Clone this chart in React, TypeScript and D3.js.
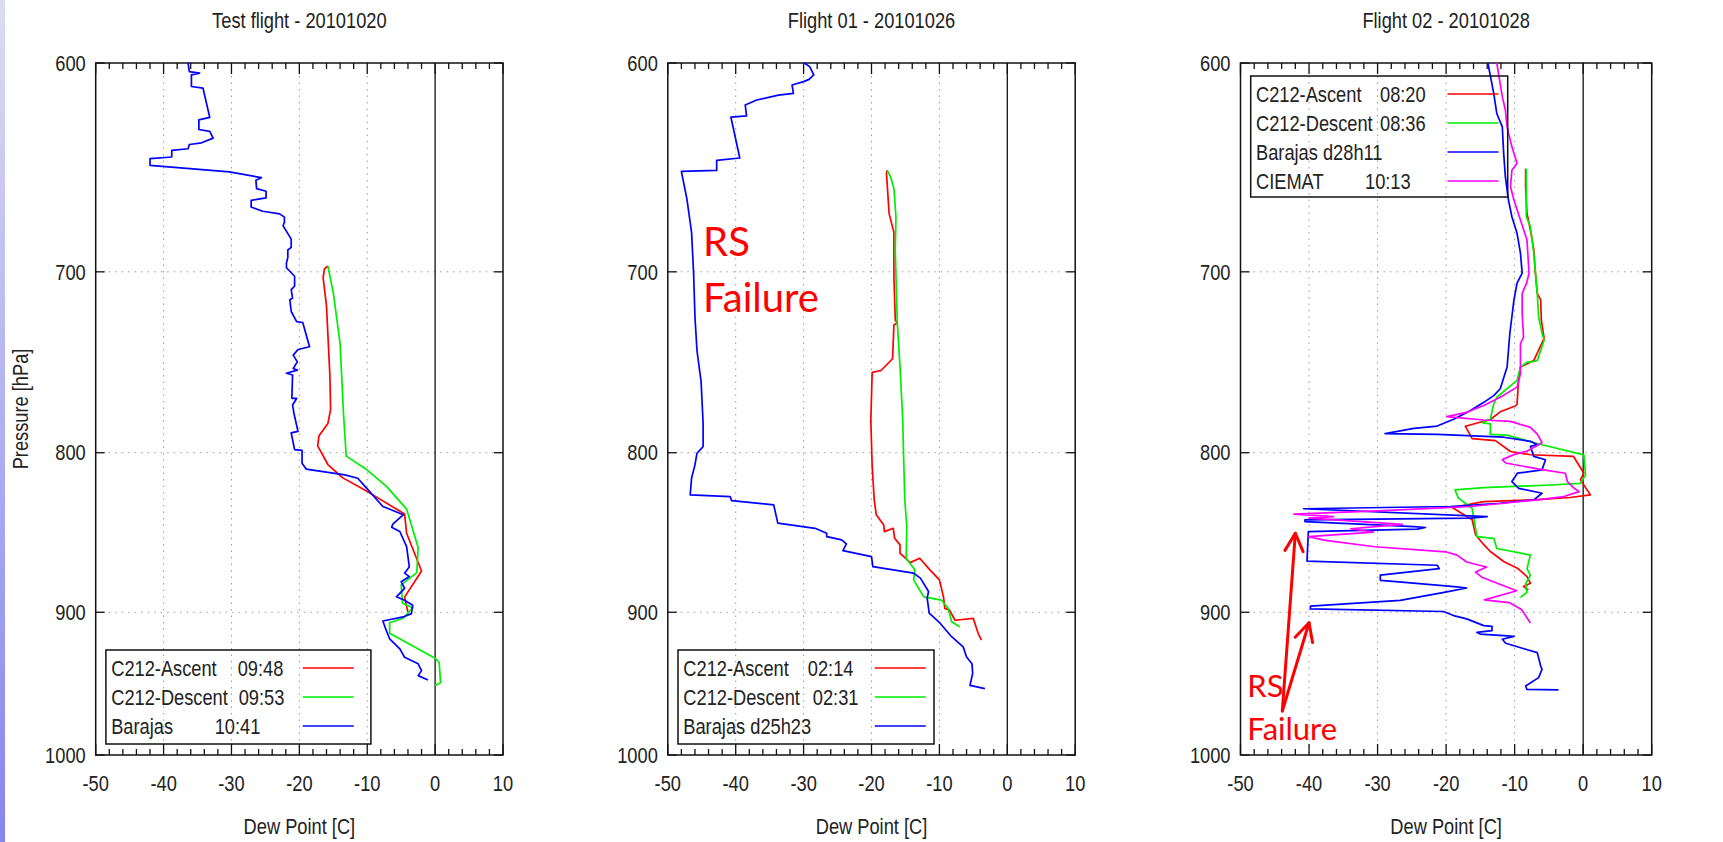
import React from 'react'
import * as d3 from 'd3'

type Pt = [number, number] // [dew point C, pressure hPa]

const xTicks = [-50, -40, -30, -20, -10, 0, 10]
const yTicks = [600, 700, 800, 900, 1000]

// ---- Test flight 20101020 ----
const testAscent: Pt[] = [
  [-15.8, 697], [-16.3, 698.5], [-16.5, 703], [-16.0, 718], [-15.5, 756], [-15.4, 775], [-15.8, 783],
  [-17.1, 790], [-17.3, 796], [-15.8, 807], [-13.6, 815], [-10.1, 823], [-4.5, 837], [-4.2, 849],
  [-2.0, 873], [-4.5, 890], [-4.0, 900],
]
const testDescent: Pt[] = [
  [-15.8, 697], [-15.0, 711], [-14.0, 738], [-13.5, 777], [-13.1, 802], [-10.1, 810], [-7.2, 820],
  [-4.2, 834], [-2.5, 858], [-2.7, 874], [-5.0, 882], [-4.8, 894], [-3.3, 897], [-4.7, 904],
  [-6.7, 907], [-6.7, 914], [0.0, 931], [0.6, 934], [0.8, 948], [0.0, 950],
]
const testBarajas: Pt[] = [
  [-36.4, 600], [-36.2, 603.8], [-34.7, 604.5], [-35.9, 605.3], [-35.9, 610.5], [-34.2, 611.2],
  [-33.2, 624.6], [-34.8, 625.7], [-34.8, 630.2], [-33.2, 631.1], [-32.7, 634.2], [-34.4, 636.4],
  [-36.2, 637.2], [-36.4, 639.2], [-38.8, 640], [-38.8, 643.1], [-42.0, 643.9], [-42.0, 647.1],
  [-30.3, 650.2], [-26.3, 652.6], [-25.6, 653], [-26.4, 654.2], [-26.3, 658.3], [-24.9, 659.6],
  [-24.9, 662.8], [-27.1, 664], [-27.1, 667.3], [-25.4, 669.4], [-22.9, 670.7], [-22.2, 672.3],
  [-22.2, 674.9], [-22.4, 676.6], [-21.8, 679.9], [-21.2, 683.3], [-21.2, 687.5], [-21.7, 688.8],
  [-21.7, 692.7], [-21.9, 695.3], [-21.9, 697.9], [-20.7, 702.3], [-20.7, 707.5], [-21.2, 709.3],
  [-21.0, 713.7], [-21.4, 714.6], [-21.2, 720.8], [-20.4, 726.2], [-19.5, 726.7], [-18.5, 739.8],
  [-20.2, 741.3], [-20.9, 744.4], [-20.3, 748.1], [-20.9, 751.8], [-20.3, 752.7], [-21.9, 754.4],
  [-21.0, 755.4], [-21.1, 768.5], [-20.4, 768.6], [-21.0, 772.3], [-20.8, 777], [-20.2, 787.5],
  [-21.2, 788.4], [-20.7, 798.2], [-19.6, 798.6], [-19.6, 806.2], [-19.0, 809.7], [-13.3, 813.2],
  [-11.4, 815.2], [-10.1, 821.2], [-7.7, 832.4], [-7.2, 833.2], [-4.7, 837.5], [-6.2, 843.1],
  [-6.4, 845.2], [-5.2, 847.9], [-4.2, 857.4], [-3.8, 870.3], [-4.5, 874.4], [-3.8, 876.6],
  [-5.0, 879.9], [-4.5, 884.3], [-5.7, 889.8], [-4.5, 892], [-3.3, 895.3], [-3.5, 900.9],
  [-4.7, 903.1], [-7.7, 905.8], [-7.2, 912.1], [-6.7, 917.8], [-5.2, 924.6], [-4.5, 930.4],
  [-2.5, 934.9], [-2.0, 939.6], [-2.5, 943.1], [-1.05, 946.1],
]

// ---- Flight 01 20101026 ----
const f1Ascent: Pt[] = [
  [-17.7, 649.4], [-17.8, 650.8], [-17.4, 670.7], [-16.7, 679.9], [-16.7, 702.4], [-16.5, 725.4],
  [-16.2, 726.9], [-16.7, 728], [-16.9, 746.4], [-18.6, 752.9], [-19.9, 753.9], [-20.1, 780.9],
  [-19.9, 808], [-19.6, 828.3], [-19.3, 837.5], [-18.2, 843.8], [-18.1, 848], [-16.8, 845.9],
  [-16.6, 852.1], [-15.8, 856.3], [-15.8, 861.6], [-14.3, 867.6], [-12.9, 864.8], [-11.4, 872.3],
  [-10.0, 878.7], [-9.4, 889.8], [-9.2, 897.4], [-8.5, 898.6], [-7.7, 905.3], [-5.0, 904.1],
  [-4.3, 914.1], [-3.8, 918.7],
]
const f1Descent: Pt[] = [
  [-17.7, 649.4], [-17.2, 652.6], [-16.7, 658.2], [-16.4, 672.1], [-16.5, 688.9], [-16.2, 727.1],
  [-15.8, 750.7], [-15.4, 780.9], [-15.3, 798.2], [-15.1, 828.3], [-14.8, 844.8], [-14.9, 864.8],
  [-13.6, 872.3], [-13.8, 878.7], [-12.3, 889.8], [-9.7, 892], [-8.7, 897.4], [-8.2, 906.3],
  [-7.0, 909.7],
]
const f1Barajas: Pt[] = [
  [-29.9, 600], [-29.1, 601.6], [-28.5, 605.3], [-29.2, 607.3], [-30.0, 608.3], [-31.7, 609.8],
  [-31.5, 613.6], [-33.7, 614.4], [-36.9, 616.6], [-38.6, 618.9], [-38.4, 623.9], [-40.7, 624.5],
  [-39.4, 643.6], [-42.8, 644.7], [-42.8, 649.5], [-48.0, 650], [-47.2, 663.1], [-46.5, 679.9],
  [-46.2, 700.7], [-46.0, 723.7], [-45.7, 742], [-45.1, 758.9], [-44.8, 782.8], [-44.8, 796.4],
  [-45.7, 800.3], [-46.0, 807.2], [-46.5, 815.2], [-46.7, 825.3], [-40.8, 826.4], [-40.6, 828.8],
  [-34.4, 831.4], [-33.8, 842.7], [-28.3, 845.9], [-26.6, 849], [-26.6, 851.1], [-24.4, 853.2],
  [-23.7, 855.7], [-24.2, 860], [-20.0, 863.8], [-19.8, 870.2], [-13.8, 874.4], [-12.8, 877.6],
  [-11.6, 886.3], [-11.8, 890.7], [-11.5, 900.6], [-9.9, 907.3], [-8.2, 916.4], [-6.5, 923.3],
  [-6.0, 930.2], [-5.2, 934.8], [-5.1, 941.6], [-5.5, 949.9], [-3.3, 952.2],
]

// ---- Flight 02 20101028 ----
const f2Ascent: Pt[] = [
  [-8.4, 648.7], [-8.4, 657.4], [-8.2, 670.4], [-7.7, 678.7], [-7.2, 688.8], [-7.0, 699.2],
  [-6.7, 711.2], [-6.2, 714.7], [-6.1, 725.4], [-5.7, 735.3], [-6.5, 741.7], [-7.2, 747.3],
  [-9.15, 751], [-9.4, 756.6], [-9.65, 771.9], [-9.9, 772.9], [-12.1, 776.2], [-13.55, 780.6],
  [-17.2, 784.5], [-16.2, 791.7], [-12.8, 792.9], [-10.6, 799.3], [-7.7, 801.2], [-1.4, 802.2],
  [0.1, 812.2], [-0.4, 816.2], [1.05, 825.3], [-1.9, 826.9], [-7.2, 828.3], [-14.5, 829.4],
  [-19.1, 833], [-17.4, 837.5], [-16.2, 840.6], [-15.7, 849.9], [-14.5, 856.2], [-13.55, 860.5],
  [-11.6, 866.9], [-9.6, 871.2], [-8.2, 876.6], [-7.7, 880.9], [-8.7, 883.1], [-8.0, 885.3],
]
const f2Descent: Pt[] = [
  [-8.3, 648.7], [-8.3, 672.1], [-7.7, 677.1], [-7.2, 690.5], [-6.7, 711.2], [-6.5, 723.6],
  [-6.0, 732.5], [-5.7, 736.2], [-6.7, 747.3], [-7.2, 747.8], [-8.2, 748.4], [-9.15, 751],
  [-9.65, 758.4], [-12.6, 767.9], [-13.05, 771.7], [-13.55, 780.5], [-14.75, 782.5], [-13.55, 783.1],
  [-13.55, 789.3], [-11.1, 789.7], [-6.0, 795.3], [0.1, 801.3], [0.35, 813.2], [-0.4, 818.3],
  [-4.8, 819.3], [-14.5, 820.9], [-18.7, 822.3], [-18.2, 827.3], [-16.2, 833.5], [-16.0, 838.6],
  [-15.5, 851.1], [-13.05, 852.2], [-12.6, 858.6], [-7.7, 862.8], [-8.2, 871.5], [-7.7, 875.8],
  [-8.4, 881.4], [-8.2, 886.9], [-9.15, 890.2],
]
const f2Barajas: Pt[] = [
  [-13.9, 600], [-13.05, 613.6], [-12.6, 622.8], [-11.8, 629], [-11.6, 641.4], [-11.35, 652.6],
  [-10.9, 663.9], [-10.4, 672.1], [-9.65, 680.4], [-9.15, 690.4], [-8.9, 700.7], [-9.65, 705.9],
  [-10.1, 714.7], [-10.4, 723.6], [-10.7, 732.5], [-10.9, 741.7], [-11.1, 750.9], [-12.1, 763.1],
  [-13.05, 767], [-14.5, 770.8], [-16.5, 775.6], [-18.9, 780.5], [-21.3, 784.4], [-24.7, 785.8],
  [-28.9, 788.8], [-21.3, 789.3], [-11.6, 790.9], [-7.7, 793.3], [-6.7, 795.3], [-7.7, 796.3],
  [-7.2, 802.2], [-5.5, 804.2], [-6.0, 810.2], [-9.6, 812.2], [-10.4, 817.2], [-9.4, 821.3],
  [-6.0, 824.3], [-7.2, 828.3], [-12.1, 830.4], [-19.4, 832.4], [-40.8, 833.8], [-14.0, 838.6],
  [-16.5, 839.6], [-40.6, 840.6], [-40.6, 841.7], [-24.7, 844.8], [-23.0, 845.4], [-24.2, 846.4],
  [-40.1, 848], [-40.3, 866.6], [-21.3, 869.3], [-21.0, 871.5], [-29.6, 875.7], [-29.6, 879],
  [-26.9, 880], [-18.4, 883.3], [-17.0, 884], [-19.9, 886.6], [-26.7, 892.1], [-39.8, 895.9],
  [-39.8, 897.7], [-20.4, 899.5], [-18.9, 902.2], [-17.0, 904.4], [-14.5, 908.9], [-13.3, 909.4],
  [-13.3, 912.3], [-15.5, 913.5], [-15.0, 914.6], [-11.6, 915.7], [-10.1, 916.2], [-11.8, 918.1],
  [-11.3, 920.8], [-8.4, 924.9], [-6.7, 927.2], [-6.2, 936.4], [-6.0, 938.7], [-6.5, 944.5],
  [-8.4, 950.3], [-8.2, 952.7], [-3.6, 953.1],
]
const f2Ciemat: Pt[] = [
  [-12.6, 600], [-11.8, 615.1], [-11.35, 621.2], [-11.1, 629], [-10.4, 638.3], [-9.65, 646.1],
  [-10.4, 649.4], [-10.6, 657.4], [-10.1, 663.9], [-9.15, 673.7], [-8.2, 683.7], [-7.9, 700.7],
  [-8.25, 705.9], [-8.9, 711.2], [-8.9, 721.8], [-8.7, 734.5], [-9.15, 738.1], [-9.15, 754.7],
  [-9.65, 762.2], [-12.1, 767.9], [-14.5, 772.6], [-17.0, 776.5], [-19.9, 779], [-14.5, 780.9],
  [-10.6, 781.7], [-7.7, 785.2], [-6.7, 789.1], [-6.0, 794.1], [-8.2, 799.1], [-10.1, 801.1],
  [-11.8, 804.1], [-11.3, 806.1], [-6.0, 810.1], [-2.6, 812.2], [-2.3, 817.2], [-1.3, 821.3],
  [-0.6, 823.3], [-2.8, 826.3], [-6.7, 828.3], [-11.6, 830.4], [-16.5, 832.4], [-29.1, 835],
  [-42.2, 837.1], [-36.4, 838.6], [-40.0, 839.6], [-26.4, 843.4], [-33.9, 846.2], [-30.6, 848.3],
  [-40.1, 851.1], [-37.6, 853.5], [-30.4, 857.5], [-20.1, 860.7], [-18.4, 862.8], [-17.0, 867.2],
  [-14.1, 870.4], [-15.7, 873.7], [-14.8, 877], [-9.7, 885.8], [-14.4, 891.8], [-10.8, 893.6],
  [-9.0, 898.1], [-7.7, 907.1],
]

// annotation: "RS Failure" arrows in flight 02, [dew, pressure]
const arrowStart: Pt = [-43.9, 968]
const arrowTips: Pt[] = [[-42.0, 849], [-40.0, 907]]

const RED = '#ff0000'
const GREEN = '#00ee00'
const BLUE = '#0000ff'
const MAGENTA = '#ff00ff'

const TOP = 63
const BOTTOM = 755
const gnuFont = '"Liberation Sans", Arial, sans-serif'
const fs = 22
const narrow = 0.83

interface Series { name: string; time?: string; timeX?: number; color: string; data: Pt[] }
interface Panel {
  title: string
  left: number
  right: number
  legendY: number
  legendH: number
  legendW: number
  series: Series[]
}

const panels: Panel[] = [
  {
    title: 'Test flight - 20101020', left: 95.7, right: 503, legendY: 650, legendH: 94, legendW: 265,
    series: [
      { name: 'C212-Ascent', time: '09:48', timeX: 142, color: RED, data: testAscent },
      { name: 'C212-Descent', time: '09:53', timeX: 143, color: GREEN, data: testDescent },
      { name: 'Barajas', time: '10:41', timeX: 119, color: BLUE, data: testBarajas },
    ],
  },
  {
    title: 'Flight 01 - 20101026', left: 667.8, right: 1075.2, legendY: 650, legendH: 94, legendW: 256,
    series: [
      { name: 'C212-Ascent', time: '02:14', timeX: 140, color: RED, data: f1Ascent },
      { name: 'C212-Descent', time: '02:31', timeX: 145, color: GREEN, data: f1Descent },
      { name: 'Barajas d25h23', color: BLUE, data: f1Barajas },
    ],
  },
  {
    title: 'Flight 02 - 20101028', left: 1240.5, right: 1651.7, legendY: 76, legendH: 121, legendW: 257,
    series: [
      { name: 'C212-Ascent', time: '08:20', timeX: 139.5, color: RED, data: f2Ascent },
      { name: 'C212-Descent', time: '08:36', timeX: 139.5, color: GREEN, data: f2Descent },
      { name: 'Barajas d28h11', color: BLUE, data: f2Barajas },
      { name: 'CIEMAT', time: '10:13', timeX: 124.5, color: MAGENTA, data: f2Ciemat },
    ],
  },
]

// gnuplot-like condensed label
function T({ x, y, anchor = 'start', dy, rotate = 0, children }:
  { x: number; y: number; anchor?: string; dy?: string; rotate?: number; children: React.ReactNode }) {
  return (
    <text transform={`translate(${x},${y}) rotate(${rotate}) scale(${narrow},1)`} dy={dy}
      textAnchor={anchor} fontSize={fs} fontFamily={gnuFont} fill="#222">{children}</text>
  )
}

function PanelView({ p, idx }: { p: Panel; idx: number }) {
  const x = d3.scaleLinear().domain([-50, 10]).range([p.left, p.right])
  const y = d3.scaleLog().domain([600, 1000]).range([TOP, BOTTOM])
  const line = d3.line<Pt>().x(d => x(d[0])).y(d => y(d[1]))
  const minor = d3.range(-50, 10.001, 2)
  const cx = (p.left + p.right) / 2
  const lx = p.left + 10.2
  const rowH = 29

  return (
    <g>
      <T x={cx} y={28} anchor="middle">{p.title}</T>
      {/* grid */}
      {xTicks.filter(t => t > -50 && t < 0).map(t => (
        <line key={'gx' + t} x1={x(t)} x2={x(t)} y1={TOP} y2={BOTTOM} stroke="#999" strokeWidth={1} strokeDasharray="1.5,5" />
      ))}
      {yTicks.filter(t => t > 600 && t < 1000).map(t => (
        <line key={'gy' + t} x1={p.left} x2={p.right} y1={y(t)} y2={y(t)} stroke="#999" strokeWidth={1} strokeDasharray="1.5,5" />
      ))}
      {/* zero axis */}
      <line x1={x(0)} x2={x(0)} y1={TOP} y2={BOTTOM} stroke="#111" strokeWidth={1.3} />
      {/* ticks */}
      {minor.map(t => {
        const major = Math.abs(t % 10) < 0.001
        const len = major ? 11 : 6
        return (
          <g key={'t' + t}>
            <line x1={x(t)} x2={x(t)} y1={BOTTOM} y2={BOTTOM - len} stroke="#111" strokeWidth={1.3} />
            <line x1={x(t)} x2={x(t)} y1={TOP} y2={TOP + len} stroke="#111" strokeWidth={1.3} />
          </g>
        )
      })}
      {yTicks.map(t => (
        <g key={'ty' + t}>
          <line x1={p.left} x2={p.left + 9} y1={y(t)} y2={y(t)} stroke="#111" strokeWidth={1.3} />
          <line x1={p.right} x2={p.right - 9} y1={y(t)} y2={y(t)} stroke="#111" strokeWidth={1.3} />
          <T x={p.left - 10} y={y(t)} dy="0.35em" anchor="end">{t}</T>
        </g>
      ))}
      {xTicks.map(t => (
        <T key={'lx' + t} x={x(t)} y={791} anchor="middle">{t}</T>
      ))}
      <rect x={p.left} y={TOP} width={p.right - p.left} height={BOTTOM - TOP} fill="none" stroke="#111" strokeWidth={1.5} />
      <T x={cx} y={834} anchor="middle">Dew Point [C]</T>
      {idx === 0 && (
        <T x={28} y={(TOP + BOTTOM) / 2} rotate={-90} anchor="middle">Pressure [hPa]</T>
      )}
      {/* data */}
      {p.series.map(s => (
        <path key={s.name} d={line(s.data) || ''} fill="none" stroke={s.color} strokeWidth={1.7} strokeLinejoin="round" />
      ))}
      {/* legend */}
      <rect x={lx} y={p.legendY} width={p.legendW} height={p.legendH} fill="none" stroke="#111" strokeWidth={1.5} />
      {p.series.map((s, i) => {
        const cy = p.legendY + 18 + i * rowH
        return (
          <g key={'lg' + s.name}>
            <T x={p.left + 15.5} y={cy} dy="0.35em">{s.name}</T>
            {s.time && <T x={p.left + (s.timeX || 0)} y={cy} dy="0.35em">{s.time}</T>}
            <line x1={p.left + 207} x2={p.left + 258} y1={cy} y2={cy} stroke={s.color} strokeWidth={1.7} />
          </g>
        )
      })}
    </g>
  )
}

function Annotations() {
  const p2 = panels[1]
  const p3 = panels[2]
  const x2 = d3.scaleLinear().domain([-50, 10]).range([p2.left, p2.right])
  const x3 = d3.scaleLinear().domain([-50, 10]).range([p3.left, p3.right])
  const y = d3.scaleLog().domain([600, 1000]).range([TOP, BOTTOM])
  const annFont = 'Lato, "Open Sans", sans-serif'
  const sx = x3(arrowStart[0])
  const sy = y(arrowStart[1])
  return (
    <g fill={RED}>
      <text x={x2(-44.8)} y={y(692)} fontSize={40} fontFamily={annFont}>RS</text>
      <text x={x2(-44.8)} y={y(692) + 56} fontSize={40} fontFamily={annFont}>Failure</text>
      <text x={x3(-49)} y={697} fontSize={31} fontFamily={annFont}>RS</text>
      <text x={x3(-49)} y={740} fontSize={31} fontFamily={annFont}>Failure</text>
      {arrowTips.map((t, i) => {
        const tx = x3(t[0])
        const ty = y(t[1])
        const ang = Math.atan2(sy - ty, sx - tx)
        const a = (27 * Math.PI) / 180
        const L = 20
        const w1 = [tx + L * Math.cos(ang + a), ty + L * Math.sin(ang + a)]
        const w2 = [tx + L * Math.cos(ang - a), ty + L * Math.sin(ang - a)]
        return (
          <g key={'ar' + i} stroke={RED} strokeWidth={3} fill="none" strokeLinecap="round" strokeLinejoin="round">
            <line x1={sx} y1={sy} x2={tx} y2={ty} />
            <polyline points={`${w1[0]},${w1[1]} ${tx},${ty} ${w2[0]},${w2[1]}`} />
          </g>
        )
      })}
    </g>
  )
}

export default function App() {
  return (
    <svg width={1723} height={842} style={{ position: 'absolute', left: 0, top: 0, display: 'block', background: '#fff' }}>
      <defs>
        <linearGradient id="strip" x1="0" y1="0" x2="0" y2="1">
          <stop offset="0" stopColor="#dcdcf2" />
          <stop offset="1" stopColor="#8585f0" />
        </linearGradient>
      </defs>
      <rect x={0} y={0} width={1723} height={842} fill="#fff" />
      <rect x={0} y={0} width={5} height={842} fill="url(#strip)" />
      {panels.map((p, i) => <PanelView key={p.title} p={p} idx={i} />)}
      <Annotations />
    </svg>
  )
}
